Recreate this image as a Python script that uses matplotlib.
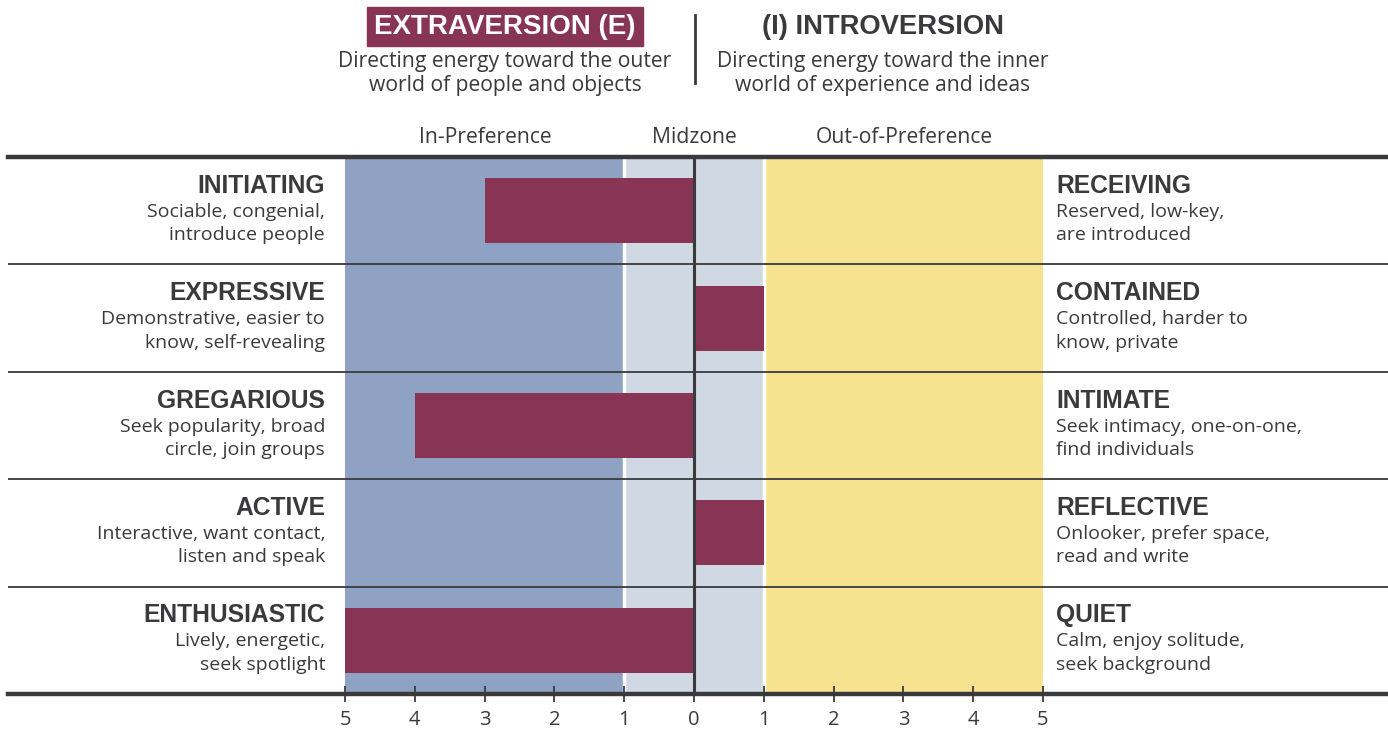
import matplotlib
matplotlib.use("Agg")
import matplotlib.pyplot as plt

# ---- data ----
left_titles = ["INITIATING", "EXPRESSIVE", "GREGARIOUS", "ACTIVE", "ENTHUSIASTIC"]
left_descs = [["Sociable, congenial,", "introduce people"],
              ["Demonstrative, easier to", "know, self-revealing"],
              ["Seek popularity, broad", "circle, join groups"],
              ["Interactive, want contact,", "listen and speak"],
              ["Lively, energetic,", "seek spotlight"]]
right_titles = ["RECEIVING", "CONTAINED", "INTIMATE", "REFLECTIVE", "QUIET"]
right_descs = [["Reserved, low-key,", "are introduced"],
               ["Controlled, harder to", "know, private"],
               ["Seek intimacy, one-on-one,", "find individuals"],
               ["Onlooker, prefer space,", "read and write"],
               ["Calm, enjoy solitude,", "seek background"]]
# negative = Extraversion side, positive = Introversion side
scores = [-3, 1, -4, 1, -5]
tick_values = [-5, -4, -3, -2, -1, 0, 1, 2, 3, 4, 5]
tick_labels = ["5", "4", "3", "2", "1", "0", "1", "2", "3", "4", "5"]
zone_labels = ["In-Preference", "Midzone", "Out-of-Preference"]

# ---- style ----
W, H = 1388, 732
DARK = "#3a3a3c"
BAR = "#873455"
BLUE = "#8fa2c4"
GREY = "#d0d8e3"
YELLOW = "#f7e38f"
BOLD = "Liberation Sans"
REG = ["Open Sans", "DejaVu Sans"]
DESC_FS = 14
HEAD_FS = 15.2

fig = plt.figure(figsize=(W / 100, H / 100), dpi=100)

# axes: pixel x 8..1388, y 157..694
upp = 10 / 698.0
x_left = -5 - (345 - 8) * upp
x_right = 5 + (1388 - 1043) * upp
ax = fig.add_axes([8 / W, 1 - 694 / H, 1380 / W, (694 - 157) / H])
ax.set_xlim(x_left, x_right)
n = len(scores)
ax.set_ylim(0, n)

# backgrounds
ax.axvspan(-5, -1, color=BLUE, lw=0, zorder=0)
ax.axvspan(-1, 1, color=GREY, lw=0, zorder=0)
ax.axvspan(1, 5, color=YELLOW, lw=0, zorder=0)
ax.axvline(-1, color="white", lw=2.5, zorder=1)
ax.axvline(1, color="white", lw=2.5, zorder=1)

# separators
for k in range(1, n):
    ax.axhline(k, color=DARK, lw=1.3, zorder=2)

# bars
ycent = [n - 0.5 - i for i in range(n)]
ax.barh(ycent, scores, left=0, height=0.605, color=BAR, zorder=3)
ax.axvline(0, color=DARK, lw=2.2, zorder=4)

# spines / ticks
for s in ["left", "right"]:
    ax.spines[s].set_visible(False)
for s in ["top", "bottom"]:
    ax.spines[s].set_linewidth(3.2)
    ax.spines[s].set_color(DARK)
    ax.spines[s].set_zorder(5)
ax.set_yticks([])
ax.set_xticks(tick_values)
ax.set_xticklabels(tick_labels, fontfamily=REG, fontsize=14.5, color=DARK)
ax.tick_params(axis="x", direction="inout", length=11, width=1.3, color=DARK, pad=6)

# row labels
px = 1 / 107.4  # data units per pixel vertically
lx = -5 - 20 * upp
rx = 5 + 13 * upp
for i in range(n):
    yc = ycent[i]
    ax.text(lx, yc + 25 * px, left_titles[i], ha="right", va="center",
            fontfamily=BOLD, fontweight="bold", fontsize=17.7, color=DARK)
    ax.text(rx, yc + 25 * px, right_titles[i], ha="left", va="center",
            fontfamily=BOLD, fontweight="bold", fontsize=17.7, color=DARK)
    for j, (ld, rd) in enumerate(zip(left_descs[i], right_descs[i])):
        yy = yc - (1 + 23.5 * j) * px
        ax.text(lx, yy, ld, ha="right", va="center", fontfamily=REG,
                fontsize=DESC_FS, color=DARK)
        ax.text(rx, yy, rd, ha="left", va="center", fontfamily=REG,
                fontsize=DESC_FS, color=DARK)

def fx(p):
    return p / W

def fy(p):
    return 1 - p / H

# zone labels
for lab, cx in zip(zone_labels, [485, 694, 904]):
    fig.text(fx(cx), fy(137.5), lab, ha="center", va="center", fontfamily=REG,
             fontsize=HEAD_FS, color=DARK)

# header
fig.patches.append(plt.Rectangle((fx(367), fy(46)), fx(643 - 367), (46 - 7) / H,
                                 transform=fig.transFigure, color=BAR, zorder=0))
fig.text(fx(505), fy(27.5), "EXTRAVERSION (E)", ha="center", va="center",
         fontfamily=BOLD, fontweight="bold", fontsize=20, color="white")
fig.text(fx(883), fy(26.5), "(I) INTROVERSION", ha="center", va="center",
         fontfamily=BOLD, fontweight="bold", fontsize=19.7, color=DARK)
fig.add_artist(plt.Line2D([fx(695), fx(695)], [fy(15), fy(83)],
                          transform=fig.transFigure, color=DARK, lw=2))
fig.text(fx(505), fy(62), "Directing energy toward the outer", ha="center", va="center",
         fontfamily=REG, fontsize=HEAD_FS, color=DARK)
fig.text(fx(505), fy(86), "world of people and objects", ha="center", va="center",
         fontfamily=REG, fontsize=HEAD_FS, color=DARK)
fig.text(fx(883), fy(62), "Directing energy toward the inner", ha="center", va="center",
         fontfamily=REG, fontsize=HEAD_FS, color=DARK)
fig.text(fx(883), fy(86), "world of experience and ideas", ha="center", va="center",
         fontfamily=REG, fontsize=HEAD_FS, color=DARK)

fig.savefig("out.png", dpi=100, facecolor="white")
